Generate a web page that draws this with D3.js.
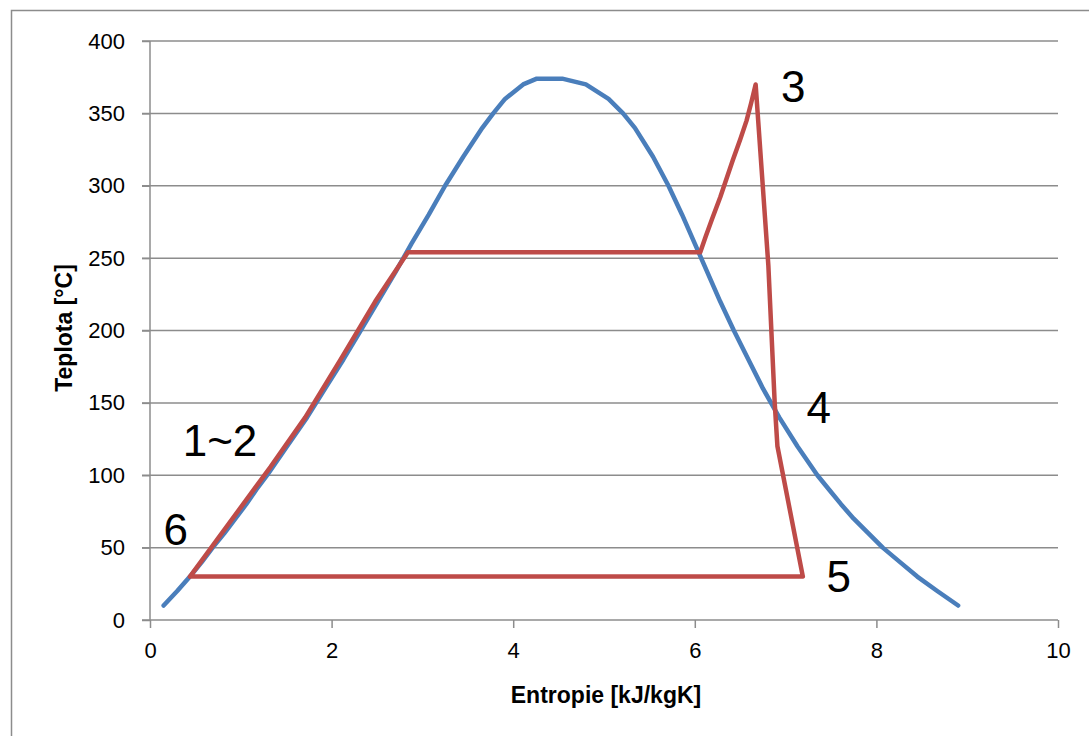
<!DOCTYPE html>
<html><head><meta charset="utf-8">
<script src="https://cdn.jsdelivr.net/npm/d3@7"></script>
<style>
html,body{margin:0;padding:0;background:#fff;}
svg{display:block;}
</style></head>
<body>
<svg id="chart" width="1089" height="736"></svg>
<script>
// Saturation dome (blue): entropy [kJ/kgK] and temperature [°C]
const domeS = [0.15, 0.30, 0.44, 0.57, 0.69, 0.82, 0.94, 1.06, 1.17, 1.29, 1.51, 1.73, 1.93, 2.13, 2.32, 2.51, 2.70, 2.88, 3.07, 3.25, 3.45, 3.66, 3.78, 3.91, 4.11, 4.26, 4.54, 4.80, 5.05, 5.21, 5.34, 5.54, 5.71, 5.86, 6.00, 6.14, 6.28, 6.43, 6.59, 6.75, 6.93, 7.13, 7.35, 7.48, 7.61, 7.75, 7.91, 8.07, 8.26, 8.45, 8.67, 8.90];
const domeT = [10, 20, 30, 40, 50, 60, 70, 80, 90, 100, 120, 140, 160, 180, 200, 220, 240, 260, 280, 300, 320, 340, 350, 360, 370, 374, 374, 370, 360, 350, 340, 320, 300, 280, 260, 240, 220, 200, 180, 160, 140, 120, 100, 90, 80, 70, 60, 50, 40, 30, 20, 10];
// Rankine cycle (red)
const cycleS = [0.44, 1.33, 1.71, 2.10, 2.48, 2.84, 6.06, 6.12, 6.19, 6.28, 6.35, 6.42, 6.50, 6.57, 6.62, 6.67, 6.81, 6.88, 6.91, 7.19, 0.44];
const cycleT = [30, 106, 140, 180, 220, 254, 254, 265, 277, 292, 305, 318, 332, 345, 357, 370, 245, 150, 120, 30, 30];
// Point labels
const labelText = ["3", "4", "5", "1~2", "6"];
const labelS = [6.95, 7.23, 7.45, 0.36, 0.15];
const labelT = [369, 147, 30, 124, 63];
// Axes
const xTicks = [0, 2, 4, 6, 8, 10];
const yTicks = [0, 50, 100, 150, 200, 250, 300, 350, 400];
const xTitle = "Entropie [kJ/kgK]";
const yTitle = "Teplota [°C]";

const svg = d3.select("#chart");
const x = d3.scaleLinear().domain([0, 10]).range([150, 1058]);
const y = d3.scaleLinear().domain([0, 400]).range([620, 41]);
const gridCol = "#8c8c8c";
const font = "'Liberation Sans', Arial, sans-serif";

// outer frame
svg.append("path").attr("d", "M11.5,736 L11.5,10.5 L1089,10.5")
  .attr("fill", "none").attr("stroke", gridCol).attr("stroke-width", 1.5);

// horizontal gridlines
svg.append("g").selectAll("line").data(yTicks.filter(d => d > 0)).join("line")
  .attr("x1", 142).attr("x2", 1058)
  .attr("y1", d => y(d)).attr("y2", d => y(d))
  .attr("stroke", gridCol).attr("stroke-width", 1.5);

// y axis
const yAxis = svg.append("g").attr("transform", "translate(150,0)")
  .call(d3.axisLeft(y).tickValues(yTicks).tickSize(8).tickPadding(17).tickFormat(d3.format("d")));
yAxis.select(".domain").attr("stroke", gridCol).attr("stroke-width", 1.5).attr("d", "M0,41V620");
yAxis.selectAll(".tick line").attr("stroke", gridCol).attr("stroke-width", 1.5);
yAxis.selectAll(".tick text").attr("font-family", font).attr("font-size", 22).attr("fill", "#000");

// x axis
const xAxis = svg.append("g").attr("transform", "translate(0,620)")
  .call(d3.axisBottom(x).tickValues(xTicks).tickSize(8).tickPadding(14).tickFormat(d3.format("d")));
xAxis.select(".domain").attr("stroke", gridCol).attr("stroke-width", 1.5).attr("d", "M142,0H1058");
xAxis.selectAll(".tick line").attr("stroke", gridCol).attr("stroke-width", 1.5);
xAxis.selectAll(".tick text").attr("font-family", font).attr("font-size", 22).attr("fill", "#000");

// axis titles
svg.append("text").attr("x", 606).attr("y", 703).attr("text-anchor", "middle")
  .attr("font-family", font).attr("font-weight", "bold").attr("font-size", 23).text(xTitle);
svg.append("text").attr("transform", "translate(72,328) rotate(-90)").attr("text-anchor", "middle")
  .attr("font-family", font).attr("font-weight", "bold").attr("font-size", 23).text(yTitle);

// lines
const line = d3.line().x(d => x(d[0])).y(d => y(d[1]));
svg.append("path").datum(domeS.map((s, i) => [s, domeT[i]]))
  .attr("d", line).attr("fill", "none").attr("stroke", "#4A7EBB")
  .attr("stroke-width", 4.5).attr("stroke-linejoin", "round").attr("stroke-linecap", "round");
svg.append("path").datum(cycleS.map((s, i) => [s, cycleT[i]]))
  .attr("d", line).attr("fill", "none").attr("stroke", "#BE4B48")
  .attr("stroke-width", 4.5).attr("stroke-linejoin", "round").attr("stroke-linecap", "round");

// point labels
svg.append("g").selectAll("text").data(labelText).join("text")
  .attr("x", (d, i) => x(labelS[i])).attr("y", (d, i) => y(labelT[i]))
  .attr("dy", "0.36em")
  .attr("font-family", font).attr("font-size", 44).attr("fill", "#000")
  .text(d => d);
</script>
</body></html>
